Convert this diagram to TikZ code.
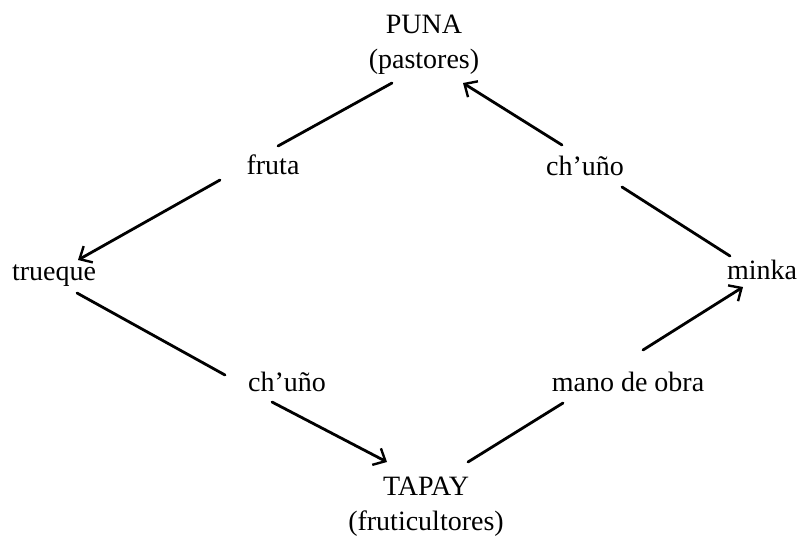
\documentclass[tikz,border=0pt]{standalone}
\usepackage{fontspec}
\setmainfont{Liberation Serif}
\usetikzlibrary{arrows.meta}
\begin{document}
\begin{tikzpicture}[x=0.75pt,y=-0.75pt,
  lbl/.style={inner sep=0pt, font=\fontsize{21}{26}\selectfont},
  blk/.style={lbl, align=center},
  conn/.style={line width=2.1pt, line cap=round},
  arr/.style={conn, -{Straight Barb[length=7.5pt,width=14pt,line width=1.8pt]}}]
\useasboundingbox (0,0) rectangle (806,537);
% nodes
\node[blk] (puna) at (424,45) {PUNA\\(pastores)};
\node[blk] (tapay) at (426,507) {TAPAY\\(fruticultores)};
\node[lbl, anchor=base] (fruta) at (273,174) {fruta};
\node[lbl, anchor=base] (chunoA) at (585,175) {ch’uño};
\node[lbl, anchor=base] (trueque) at (54,280) {trueque};
\node[lbl, anchor=base] (minka) at (762,279) {minka};
\node[lbl, anchor=base] (chunoB) at (287,391) {ch’uño};
\node[lbl, anchor=base] (mano) at (628,391) {mano de obra};
% connector ends
\coordinate (p1) at (392,83);  \coordinate (f1) at (278,146);
\coordinate (f2) at (220,180); \coordinate (t1) at (78,260);
\coordinate (t2) at (77,293);  \coordinate (cb1) at (225,375);
\coordinate (cb2) at (272,402); \coordinate (ta1) at (387,462);
\coordinate (ta2) at (468,462); \coordinate (m1) at (563,403);
\coordinate (m2) at (643,350); \coordinate (mi1) at (743,287);
\coordinate (mi2) at (730,256); \coordinate (ca1) at (622,187);
\coordinate (ca2) at (562,145); \coordinate (p2) at (463,83);
% connectors
\draw[conn] (p1) -- (f1);
\draw[arr] (f2) -- (t1);
\draw[conn] (t2) -- (cb1);
\draw[arr] (cb2) -- (ta1);
\draw[conn] (ta2) -- (m1);
\draw[arr] (m2) -- (mi1);
\draw[conn] (mi2) -- (ca1);
\draw[arr] (ca2) -- (p2);
\end{tikzpicture}
\end{document}
